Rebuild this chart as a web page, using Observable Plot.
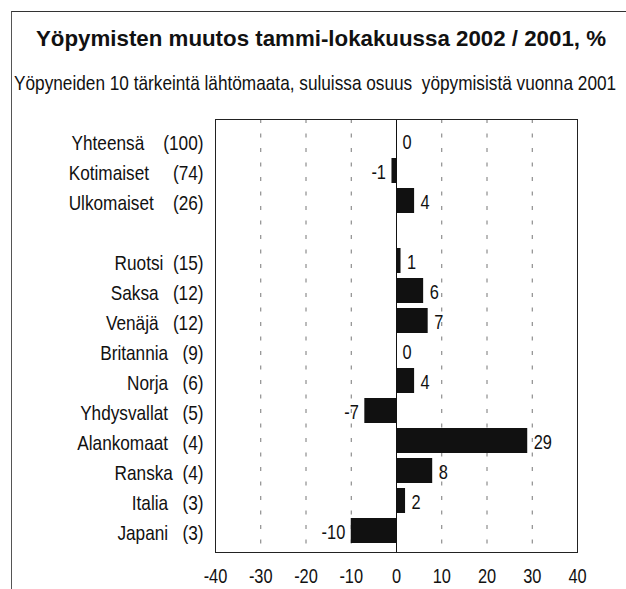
<!DOCTYPE html>
<html><head><meta charset="utf-8">
<script src="https://cdn.jsdelivr.net/npm/d3@7"></script>
<script src="https://cdn.jsdelivr.net/npm/@observablehq/plot@0.6"></script>
<style>
body{margin:0;background:#fff;}
#wrap{position:relative;width:626px;height:589px;overflow:hidden;background:#fff;font-family:"Liberation Sans",Arial,sans-serif;color:#111;}
#frame{position:absolute;left:11px;top:11px;width:700px;height:700px;border-left:1.5px solid #555;border-top:1.5px solid #333;}
#title{position:absolute;left:0;width:642px;text-align:center;top:28px;font-size:22.3px;font-weight:bold;line-height:22px;white-space:nowrap;}
#subtitle{position:absolute;left:14px;top:72px;font-size:21px;line-height:21px;white-space:pre;transform:scaleX(0.82);transform-origin:0 0;}
#chart{position:absolute;left:0;top:100px;line-height:0;}
</style></head><body>
<div id="wrap">
<div id="frame"></div>
<div id="title">Yöpymisten muutos tammi-lokakuussa 2002 / 2001, %</div>
<div id="subtitle">Yöpyneiden 10 tärkeintä lähtömaata, suluissa osuus  yöpymisistä vuonna 2001</div>
<div id="chart"></div>
</div>
<script>
const NB = "\u00A0";
const categories = ["Yhteensä","Kotimaiset","Ulkomaiset","","Ruotsi","Saksa","Venäjä","Britannia","Norja","Yhdysvallat","Alankomaat","Ranska","Italia","Japani"];
const labels = [
  "Yhteensä"+NB.repeat(4)+"(100)",
  "Kotimaiset"+NB.repeat(5)+"(74)",
  "Ulkomaiset"+NB.repeat(4)+"(26)",
  "",
  "Ruotsi"+NB.repeat(2)+"(15)",
  "Saksa"+NB.repeat(3)+"(12)",
  "Venäjä"+NB.repeat(3)+"(12)",
  "Britannia"+NB.repeat(3)+"(9)",
  "Norja"+NB.repeat(3)+"(6)",
  "Yhdysvallat"+NB.repeat(3)+"(5)",
  "Alankomaat"+NB.repeat(3)+"(4)",
  "Ranska"+NB.repeat(2)+"(4)",
  "Italia"+NB.repeat(3)+"(3)",
  "Japani"+NB.repeat(3)+"(3)"
];
const values = [0,-1,4,null,1,6,7,0,4,-7,29,8,2,-10];
const xTicks = [-40,-30,-20,-10,0,10,20,30,40];
const gridTicks = [-30,-20,-10,10,20,30];

const rows = categories.map((c,i)=>({key:c, value:values[i]})).filter(d=>d.value!==null);
const labelOf = new Map(categories.map((c,i)=>[c,labels[i]]));

const plot = Plot.plot({
  width:626, height:489,
  marginLeft:215, marginRight:49, marginTop:19, marginBottom:37,
  style:{fontFamily:"'Liberation Sans', Arial, sans-serif", fontSize:"21px", color:"#111", background:"transparent", overflow:"visible"},
  x:{domain:[-40,40]},
  y:{domain:categories, paddingInner:0.17, paddingOuter:0.085},
  marks:[
    Plot.ruleX(gridTicks, {stroke:"#777", strokeDasharray:"4,10.5", strokeWidth:1}),
    Plot.barX(rows, {x:"value", y:"key", fill:"#111"}),
    Plot.ruleX([0], {stroke:"#111", strokeWidth:1}),
    Plot.frame({stroke:"#222", strokeWidth:1}),
    Plot.axisX({ticks:xTicks, tickSize:0, tickPadding:16, tickFormat:d=>String(d), fontSize:20, label:null, fill:"#111"}),
    Plot.axisY({tickSize:0, tickPadding:12, tickFormat:d=>labelOf.get(d), fontSize:21, label:null, fill:"#111", dy:2}),
    Plot.text(rows.filter(d=>d.value>=0), {x:"value", y:"key", text:d=>String(d.value), textAnchor:"start", dx:6, dy:2, fontSize:20, fill:"#111"}),
    Plot.text(rows.filter(d=>d.value<0), {x:"value", y:"key", text:d=>String(d.value), textAnchor:"end", dx:-6, dy:2, fontSize:20, fill:"#111"})
  ]
});
plot.querySelectorAll("text").forEach(t=>{
  const x = parseFloat(t.getAttribute("x")||0);
  const tr = t.getAttribute("transform")||"";
  t.setAttribute("transform", `${tr} translate(${x},0) scale(0.82,1) translate(${-x},0)`);
});
document.getElementById("chart").appendChild(plot);
</script>
</body></html>
